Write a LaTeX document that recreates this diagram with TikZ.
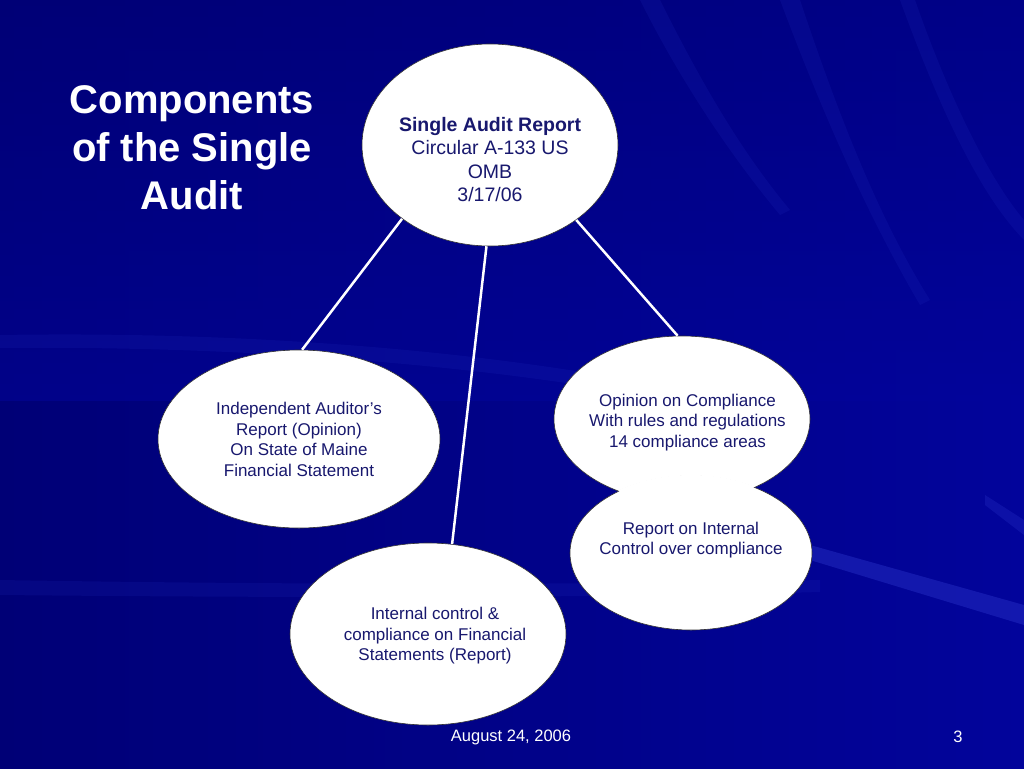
\documentclass[tikz,border=0pt]{standalone}
\usepackage{fontspec}
\setmainfont{Liberation Sans}
\usetikzlibrary{shapes.geometric}
\definecolor{bgdark}{RGB}{0,0,118}
\definecolor{bgmid}{RGB}{2,4,155}
\definecolor{bglight}{RGB}{40,50,200}
\definecolor{navytext}{RGB}{24,24,110}
\newcommand{\btext}[3][0pt]{\raisebox{#2}[0pt][0pt]{\makebox[0pt]{\hspace*{#1}\begin{tabular}{@{}c@{}}#3\end{tabular}}}}
\tikzset{
  bubble/.style={ellipse, draw=black!80, line width=0.6pt, fill=white, inner sep=0pt,
    text=navytext, font=\fontsize{17}{20.5}\selectfont},
  link/.style={draw=white, line width=2.5pt},
  ray/.style={fill=bglight, opacity=0.15},
}
\begin{document}
\begin{tikzpicture}[x=1pt,y=-1pt]
\useasboundingbox (0,0) rectangle (1024,768);
% background
\shade[left color=bgdark, right color=bgmid] (0,0) rectangle (1024,768);
\shade[top color=bgdark, bottom color=bgmid, opacity=0.5] (0,0) rectangle (1024,400);
\fill[ray] (780,0) -- (800,0) .. controls (840,120) and (880,220) .. (930,300) -- (920,305) .. controls (870,220) and (825,120) .. cycle;
\fill[ray] (900,0) -- (915,0) .. controls (950,100) and (990,180) .. (1024,220) -- (1024,240) .. controls (980,195) and (940,110) .. cycle;
\fill[ray] (640,0) -- (660,0) .. controls (700,80) and (740,150) .. (790,210) -- (780,215) .. controls (730,155) and (680,80) .. cycle;
\fill[ray] (0,335) .. controls (300,330) and (600,360) .. (800,420) -- (800,430) .. controls (600,375) and (300,345) .. (0,348) -- cycle;
\fill[ray] (0,580) .. controls (300,585) and (600,585) .. (820,580) -- (820,592) .. controls (600,598) and (300,598) .. (0,595) -- cycle;
\fill[ray, opacity=0.45] (810,545) -- (1024,605) -- (1024,625) -- (810,560) -- cycle;
\fill[ray, opacity=0.3] (985,495) -- (1024,520) -- (1024,535) -- (985,505) -- cycle;
% title
\node[text=white, font=\bfseries\fontsize{40}{48}\selectfont, align=center] (title) at (192,148) {Components\\of the Single\\Audit};
% bubbles
\node[bubble, minimum width=256pt, minimum height=202pt, font=\fontsize{19.5}{23.3}\selectfont] (top) at (490,145)
  {\btext{-22pt}{\textbf{Single Audit Report}\\Circular A-133 US\\OMB\\3/17/06}};
\node[bubble, minimum width=282pt, minimum height=178pt] (left) at (299,439)
  {\btext{-6.5pt}{Independent Auditor’s\\Report (Opinion)\\On State of Maine\\Financial Statement}};
\node[bubble, minimum width=256pt, minimum height=166pt] (ru) at (682,419)
  {\btext[11pt]{-8pt}{Opinion on Compliance\\With rules and regulations\\14 compliance areas}};
\node[bubble, minimum width=242pt, minimum height=154pt] (rl) at (691,553)
  {\btext{8.5pt}{Report on Internal\\Control over compliance}};
\begin{scope}
  \clip (rl.center) ellipse (120.5pt and 76.5pt);
  \fill[white] (ru.center) ellipse (129pt and 84pt);
\end{scope}
\begin{scope}
  \clip (ru.center) ellipse (127.5pt and 82.5pt);
  \fill[white] (rl.center) ellipse (122pt and 78pt);
\end{scope}
\node[bubble, minimum width=276pt, minimum height=182pt] (bot) at (428,634)
  {\btext[14pt]{-6.5pt}{Internal control \&\\compliance on Financial\\Statements (Report)}};
% connectors
\draw[link] (top.220.5) -- (left.88);
\draw[link] (top.268) -- (bot.75);
\draw[link] (top.319.5) -- (ru.93);
% footer
\node[text=white, font=\fontsize{16.5}{20}\selectfont] (date) at (511,737) {August 24, 2006};
\node[text=white, font=\fontsize{16.5}{20}\selectfont] (page) at (958,737) {3};
\end{tikzpicture}
\end{document}
